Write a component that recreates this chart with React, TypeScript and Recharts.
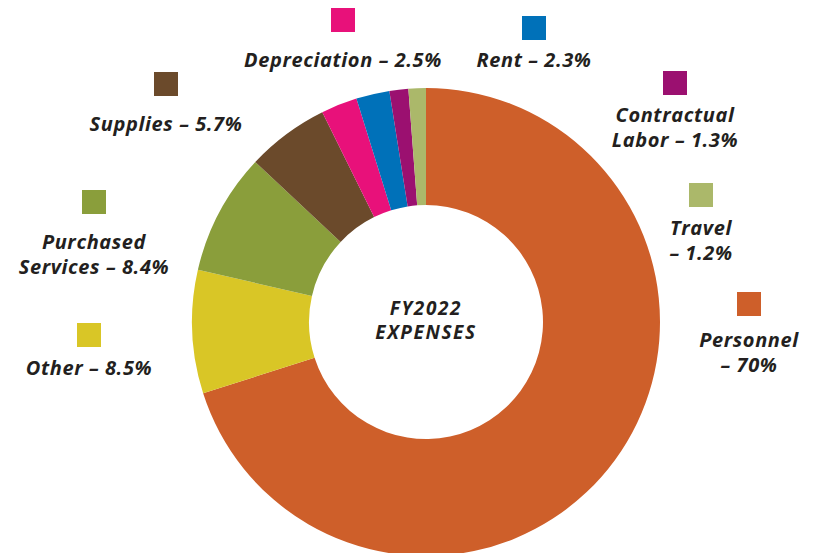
import { PieChart, Pie, Cell } from "recharts";

const categories = ["Personnel", "Other", "Purchased Services", "Supplies", "Depreciation", "Rent", "Contractual Labor", "Travel"];
const shares = [70, 8.5, 8.4, 5.7, 2.5, 2.3, 1.3, 1.2];
const labelLines = [
  ["Personnel", "– 70%"],
  ["Other – 8.5%"],
  ["Purchased", "Services – 8.4%"],
  ["Supplies – 5.7%"],
  ["Depreciation – 2.5%"],
  ["Rent – 2.3%"],
  ["Contractual", "Labor – 1.3%"],
  ["Travel", "– 1.2%"],
];
const centerTitle = ["FY2022", "EXPENSES"];
const colors = ["#CE5F2A", "#D9C626", "#8A9E3B", "#6B4A2B", "#E8117A", "#0071B9", "#9B1070", "#ABB86A"];

// legend block layout: swatch centre x, swatch top y, first text baseline
const labelSpots = [
  { x: 749, y: 292, ty: 347 },
  { x: 89, y: 323, ty: 375 },
  { x: 94, y: 190, ty: 249 },
  { x: 166, y: 72, ty: 131 },
  { x: 343, y: 8, ty: 67 },
  { x: 534, y: 16, ty: 67 },
  { x: 675, y: 71, ty: 122 },
  { x: 701, y: 183, ty: 235 },
];

const data = categories.map((name, i) => ({ name, value: shares[i] }));
const ink = "#231f20";
const font = "'Open Sans', Lato, sans-serif";
const CX = 426;
const CY = 322;

function SliceLabel(props: any) {
  const i = props.index;
  const spot = labelSpots[i];
  const lines = labelLines[i];
  return (
    <g>
      <rect x={spot.x - 12} y={spot.y} width={24} height={24} fill={colors[i]} />
      {lines.map((t, k) => (
        <text
          key={k}
          x={spot.x}
          y={spot.ty + k * 24.5}
          textAnchor="middle"
          fontFamily={font}
          fontStyle="italic"
          fontWeight={700}
          fontSize={20}
          letterSpacing={0.6}
          fill={ink}
        >
          {t}
        </text>
      ))}
    </g>
  );
}

export default function App() {
  return (
    <div style={{ width: 816, height: 553, background: "#fff", overflow: "hidden" }}>
      <style>{"body{margin:0}"}</style>
      <PieChart width={816} height={553} margin={{ top: 0, right: 0, bottom: 0, left: 0 }}>
        <Pie
          data={data}
          dataKey="value"
          nameKey="name"
          cx={CX}
          cy={CY}
          innerRadius={117}
          outerRadius={234}
          startAngle={90}
          endAngle={-270}
          stroke="none"
          label={SliceLabel}
          labelLine={false}
          isAnimationActive={false}
        >
          {data.map((d, i) => (
            <Cell key={d.name} fill={colors[i]} />
          ))}
        </Pie>
        <g fontFamily={font} fontStyle="italic" fontWeight={700} fontSize={19} letterSpacing={1.6} fill={ink} textAnchor="middle">
          {centerTitle.map((t, k) => (
            <text key={t} x={CX} y={CY - 7 + k * 24}>
              {t}
            </text>
          ))}
        </g>
      </PieChart>
    </div>
  );
}
